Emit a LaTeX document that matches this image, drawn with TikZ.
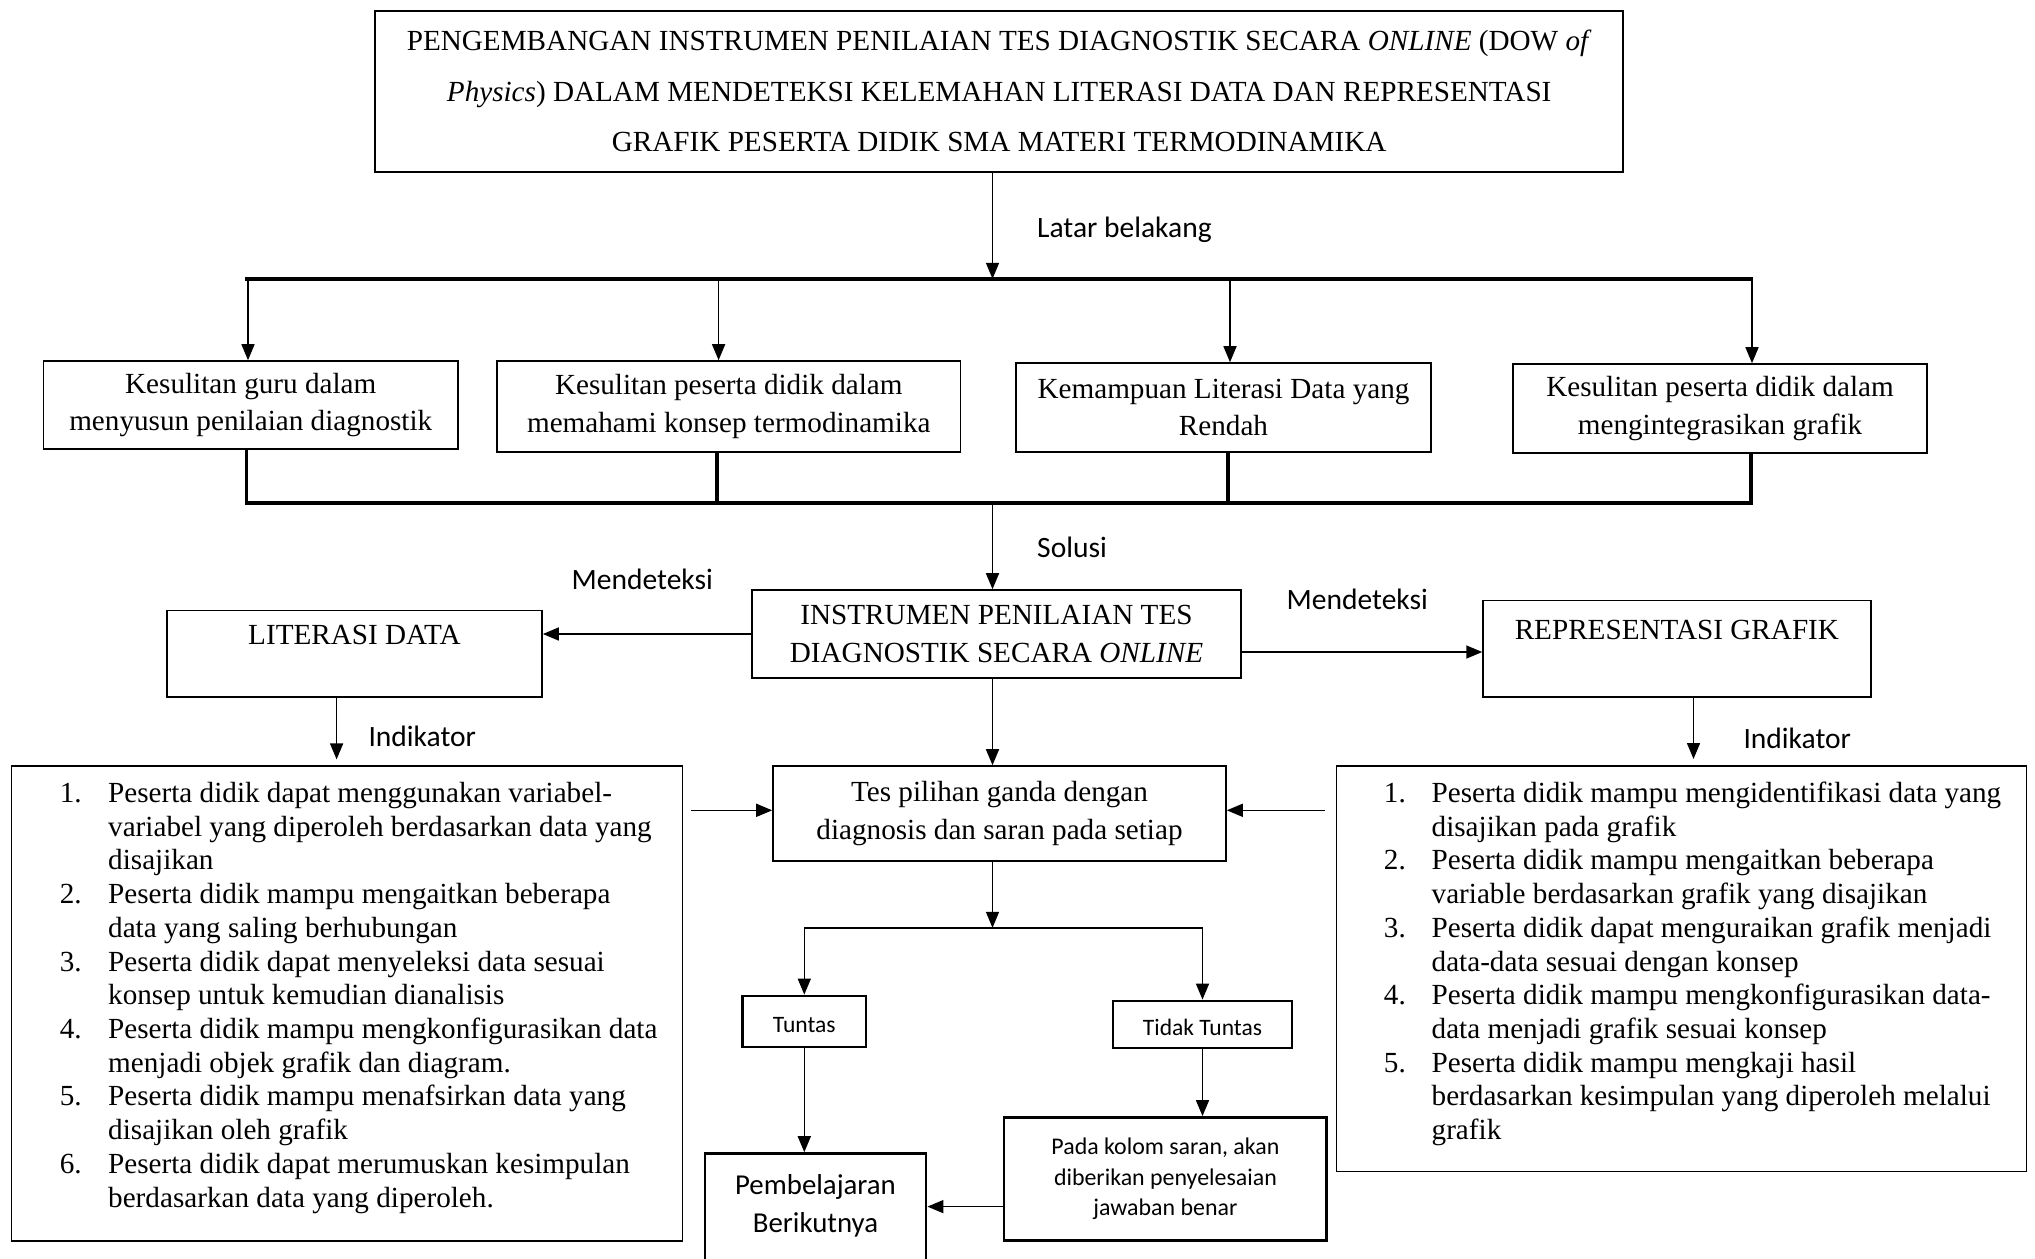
\documentclass[tikz,border=0pt]{standalone}
\usepackage{fontspec}
\setmainfont{Liberation Serif}
\newfontfamily\calibri{Carlito}
\usetikzlibrary{arrows.meta,positioning}
\begin{document}
\begin{tikzpicture}[
 caja/.style={draw,line width=0.45pt,inner sep=0pt,align=center,font=\fontsize{8.3}{10.6}\selectfont},
 cajagruesa/.style={draw,line width=0.8pt,inner sep=0pt,align=center},
 flecha/.style={-{Triangle[length=1.6mm,width=1.3mm]},line width=0.45pt},
 bus/.style={line width=1.1pt,line cap=rect},
 etiqueta/.style={anchor=base west,inner sep=0pt,font=\calibri\fontsize{8.4}{10}\selectfont},
 lista/.style={anchor=north west,inner sep=0pt,font=\fontsize{8.3}{9.6}\selectfont}]
\useasboundingbox (0,0) rectangle (20.35,-12.58);
\coordinate (sumbu) at (9.925,0);
% judul
\path (9.992,-0.9125) node[caja,minimum width=12.48cm,minimum height=1.609cm,font=\fontsize{8.3}{14.4}\selectfont] (judul) {PENGEMBANGAN INSTRUMEN PENILAIAN TES DIAGNOSTIK SECARA \textit{ONLINE} (DOW \textit{of}\\ \textit{Physics}) DALAM MENDETEKSI KELEMAHAN LITERASI DATA DAN REPRESENTASI\\ GRAFIK PESERTA DIDIK SMA MATERI TERMODINAMIKA};
\path (10.365,-2.373) node[etiqueta] (latar) {Latar belakang};
\coordinate (busA1) at (2.465,-2.788);
\coordinate (busA2) at (17.506,-2.788);
\draw[flecha] (judul.south -| sumbu) -- (sumbu |- busA1);
\draw[bus] (busA1) -- (busA2);
% latar belakang
\path (2.5075,-4.05) node[caja,minimum width=4.145cm,minimum height=0.88cm] (kes1) {Kesulitan guru dalam\\menyusun penilaian diagnostik};
\path (7.288,-4.065) node[caja,minimum width=4.636cm,minimum height=0.91cm] (kes2) {Kesulitan peserta didik dalam\\memahami konsep termodinamika};
\path (12.235,-4.075) node[caja,minimum width=4.15cm,minimum height=0.89cm] (kes3) {Kemampuan Literasi Data yang\\Rendah};
\path (17.2,-4.085) node[caja,minimum width=4.14cm,minimum height=0.89cm] (kes4) {Kesulitan peserta didik dalam\\mengintegrasikan grafik};
\foreach \k/\x in {kes1/2.48,kes2/7.186,kes3/12.30,kes4/17.52}
  \draw[flecha] (busA1 -| \x,0) -- (\k.north -| \x,0);
\coordinate (busB1) at (2.465,-5.03);
\coordinate (busB2) at (17.506,-5.03);
\foreach \k/\x in {kes1/2.465,kes2/7.167,kes3/12.28,kes4/17.506}
  \draw[bus] (\k.south -| \x,0) -- (busB1 -| \x,0);
\draw[bus] (busB1) -- (busB2);
% solusi
\path (10.365,-5.57) node[etiqueta] (solusi) {Solusi};
\path (9.965,-6.34) node[caja,minimum width=4.89cm,minimum height=0.88cm] (instr) {INSTRUMEN PENILAIAN TES\\DIAGNOSTIK SECARA \textit{ONLINE}};
\draw[flecha] (busB1 -| sumbu) -- (instr.north -| sumbu);
\path (3.544,-6.539) node[caja,minimum width=3.753cm,minimum height=0.867cm] (lit) {LITERASI DATA\\\mbox{}};
\path (16.769,-6.489) node[caja,minimum width=3.877cm,minimum height=0.967cm] (rep) {REPRESENTASI GRAFIK\\\mbox{}};
\path (5.71,-5.891) node[etiqueta] (mdk1) {Mendeteksi};
\path (12.86,-6.095) node[etiqueta] (mdk2) {Mendeteksi};
\draw[flecha] (instr.west) -- (instr.west -| lit.east);
\coordinate (kerep) at (12.41,-6.52);
\draw[flecha] (kerep) -- (kerep -| rep.west);
% indikator
\path (3.678,-7.465) node[etiqueta] (ind1) {Indikator};
\path (17.428,-7.485) node[etiqueta] (ind2) {Indikator};
\coordinate (indA) at (3.366,-7.594);
\coordinate (indB) at (16.935,-7.59);
\draw[flecha] (lit.south -| indA) -- (indA);
\draw[flecha] (rep.south -| indB) -- (indB);
\path (3.47,-10.034) node[caja,minimum width=6.706cm,minimum height=4.747cm] (indlit) {};
\path (16.815,-9.687) node[caja,minimum width=6.901cm,minimum height=4.053cm] (indgraf) {};
\node[lista] (litteks) at ([xshift=0.483cm,yshift=-0.127cm]indlit.north west) {\begin{tabular}{@{}p{0.483cm}@{}l@{}}
1. & Peserta didik dapat menggunakan variabel-\\
   & variabel yang diperoleh berdasarkan data yang\\
   & disajikan\\
2. & Peserta didik mampu mengaitkan beberapa\\
   & data yang saling berhubungan\\
3. & Peserta didik dapat menyeleksi data sesuai\\
   & konsep untuk kemudian dianalisis\\
4. & Peserta didik mampu mengkonfigurasikan data\\
   & menjadi objek grafik dan diagram.\\
5. & Peserta didik mampu menafsirkan data yang\\
   & disajikan oleh grafik\\
6. & Peserta didik dapat merumuskan kesimpulan\\
   & berdasarkan data yang diperoleh.
\end{tabular}};
\node[lista] (grafteks) at ([xshift=0.476cm,yshift=-0.127cm]indgraf.north west) {\begin{tabular}{@{}p{0.477cm}@{}l@{}}
1. & Peserta didik mampu mengidentifikasi data yang\\
   & disajikan pada grafik\\
2. & Peserta didik mampu mengaitkan beberapa\\
   & variable berdasarkan grafik yang disajikan\\
3. & Peserta didik dapat menguraikan grafik menjadi\\
   & data-data sesuai dengan konsep\\
4. & Peserta didik mampu mengkonfigurasikan data-\\
   & data menjadi grafik sesuai konsep\\
5. & Peserta didik mampu mengkaji hasil\\
   & berdasarkan kesimpulan yang diperoleh melalui\\
   & grafik
\end{tabular}};
% tes
\path (9.995,-8.134) node[caja,minimum width=4.53cm,minimum height=0.948cm] (tes) {Tes pilihan ganda dengan\\diagnosis dan saran pada setiap};
\draw[flecha] (instr.south -| sumbu) -- (tes.north -| sumbu);
\coordinate (litke) at (6.908,-8.103);
\coordinate (grafke) at (13.25,-8.103);
\draw[flecha] (litke) -- (litke -| tes.west);
\draw[flecha] (grafke) -- (grafke -| tes.east);
\coordinate (cabang) at (9.925,-9.278);
\draw[flecha] (tes.south -| sumbu) -- (cabang);
\path (8.043,-10.215) node[cajagruesa,minimum width=1.234cm,minimum height=0.51cm,text height=6pt,text depth=0pt,font=\calibri\fontsize{6.7}{8}\selectfont] (tuntas) {Tuntas};
\path (12.025,-10.245) node[cajagruesa,minimum width=1.79cm,minimum height=0.47cm,text height=6pt,text depth=0pt,font=\calibri\fontsize{6.7}{8}\selectfont] (tidak) {Tidak Tuntas};
\draw[flecha] (tidak.north |- cabang) -- (tuntas.north |- cabang) -- (tuntas.north);
\draw[flecha] (tidak.north |- cabang) -- (tidak.north);
\path (8.155,-12.118) node[cajagruesa,minimum width=2.21cm,minimum height=1.164cm,font=\calibri\fontsize{8.2}{10.8}\selectfont] (pemb) {Pembelajaran\\Berikutnya\\[-6pt]\mbox{}};
\path (11.654,-11.791) node[cajagruesa,minimum width=3.227cm,minimum height=1.232cm,font=\calibri\fontsize{6.8}{8.7}\selectfont] (pada) {Pada kolom saran, akan\\diberikan penyelesaian\\jawaban benar};
\draw[flecha] (tuntas.south) -- (tuntas.south |- pemb.north);
\draw[flecha] (tidak.south) -- (tidak.south |- pada.north);
\coordinate (padake) at (10.04,-12.066);
\draw[flecha] (padake) -- (padake -| pemb.east);
\end{tikzpicture}
\end{document}
